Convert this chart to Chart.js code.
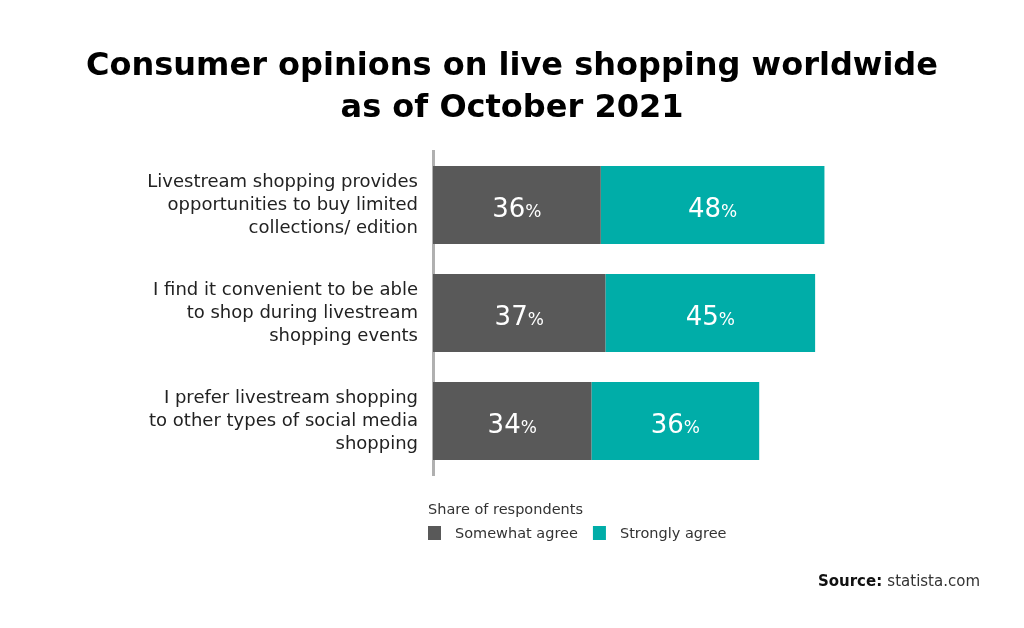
<!DOCTYPE html>
<html>
<head>
<meta charset="utf-8">
<script src="https://cdn.jsdelivr.net/npm/chart.js@4"></script>
<style>
  html, body { margin: 0; padding: 0; background: #ffffff; }
  #wrap { width: 1024px; height: 628px; }
</style>
</head>
<body>
<div id="wrap"><canvas id="c" width="1024" height="628"></canvas></div>
<script>
const titleLines = ["Consumer opinions on live shopping worldwide", "as of October 2021"];
const categories = [
  ["Livestream shopping provides", "opportunities to buy limited", "collections/ edition"],
  ["I find it convenient to be able", "to shop during livestream", "shopping events"],
  ["I prefer livestream shopping", "to other types of social media", "shopping"]
];
const seriesNames = ["Somewhat agree", "Strongly agree"];
const somewhatAgree = [36, 37, 34];
const stronglyAgree = [48, 45, 36];
const legendTitle = "Share of respondents";
const sourceLabel = "Source:";
const sourceText = "statista.com";

const FONT = '"DejaVu Sans", "Open Sans", sans-serif';
const colors = ["#595959", "#00ADA8"];

const overlay = {
  id: 'overlay',
  afterDatasetsDraw(chart) {
    const ctx = chart.ctx;
    ctx.save();
    chart.data.datasets.forEach((ds, di) => {
      const meta = chart.getDatasetMeta(di);
      meta.data.forEach((el, i) => {
        const v = ds.data[i];
        const cx = (el.x + el.base) / 2;
        const cy = el.y;
        const num = String(v);
        ctx.fillStyle = '#ffffff';
        ctx.textBaseline = 'alphabetic';
        ctx.font = '26px ' + FONT;
        const wn = ctx.measureText(num).width;
        ctx.font = '17px ' + FONT;
        const wp = ctx.measureText('%').width;
        const start = cx - (wn + wp) / 2;
        ctx.textAlign = 'left';
        ctx.font = '26px ' + FONT;
        ctx.fillText(num, start, cy + 12);
        ctx.font = '17px ' + FONT;
        ctx.fillText('%', start + wn, cy + 12);
      });
    });
    ctx.restore();
  },
  afterDraw(chart) {
    const ctx = chart.ctx;
    ctx.save();
    ctx.fillStyle = '#000000';
    ctx.textAlign = 'center';
    ctx.textBaseline = 'alphabetic';
    ctx.font = 'bold 32px ' + FONT;
    let w = ctx.measureText(titleLines[0]).width;
    let size = 32 * 852 / w;
    ctx.font = 'bold ' + size.toFixed(2) + 'px ' + FONT;
    ctx.fillText(titleLines[0], 512, 75);
    ctx.fillText(titleLines[1], 512, 117);

    ctx.textAlign = 'left';
    ctx.fillStyle = '#333333';
    ctx.font = '14.5px ' + FONT;
    ctx.fillText(legendTitle, 428, 514);
    let x = 428;
    chart.data.datasets.forEach((ds, di) => {
      ctx.fillStyle = ds.backgroundColor;
      ctx.fillRect(x, 526, 13, 14);
      ctx.fillStyle = '#333333';
      ctx.font = '14.5px ' + FONT;
      ctx.fillText(ds.label, x + 27, 538);
      x = x + 27 + ctx.measureText(ds.label).width + 15;
    });

    ctx.font = '15px ' + FONT;
    const ws = ctx.measureText(sourceText).width;
    ctx.font = 'bold 15px ' + FONT;
    const wl = ctx.measureText(sourceLabel + ' ').width;
    const sx = 980 - ws - wl;
    ctx.fillStyle = '#111111';
    ctx.fillText(sourceLabel + ' ', sx, 586);
    ctx.font = '15px ' + FONT;
    ctx.fillStyle = '#333333';
    ctx.fillText(sourceText, sx + wl, 586);
    ctx.restore();
  }
};

new Chart(document.getElementById('c'), {
  type: 'bar',
  data: {
    labels: categories,
    datasets: [
      { label: seriesNames[0], data: somewhatAgree, backgroundColor: colors[0] },
      { label: seriesNames[1], data: stronglyAgree, backgroundColor: colors[1] }
    ]
  },
  options: {
    indexAxis: 'y',
    responsive: false,
    animation: false,
    maintainAspectRatio: false,
    layout: { padding: { top: 151, bottom: 153, right: 125, left: 0 } },
    datasets: { bar: { categoryPercentage: 0.722, barPercentage: 1, borderWidth: 0 } },
    plugins: {
      legend: { display: false },
      title: { display: false },
      tooltip: { enabled: false }
    },
    scales: {
      x: { stacked: true, min: 0, max: 100, display: false },
      y: {
        stacked: true,
        grid: { display: false },
        border: { display: true, color: '#b0b0b0', width: 3 },
        ticks: {
          color: '#222222',
          padding: 7,
          font: { size: 18, family: FONT, lineHeight: 1.28 }
        },
        afterFit(scale) { scale.width = 433; }
      }
    }
  },
  plugins: [overlay]
});
</script>
</body>
</html>
